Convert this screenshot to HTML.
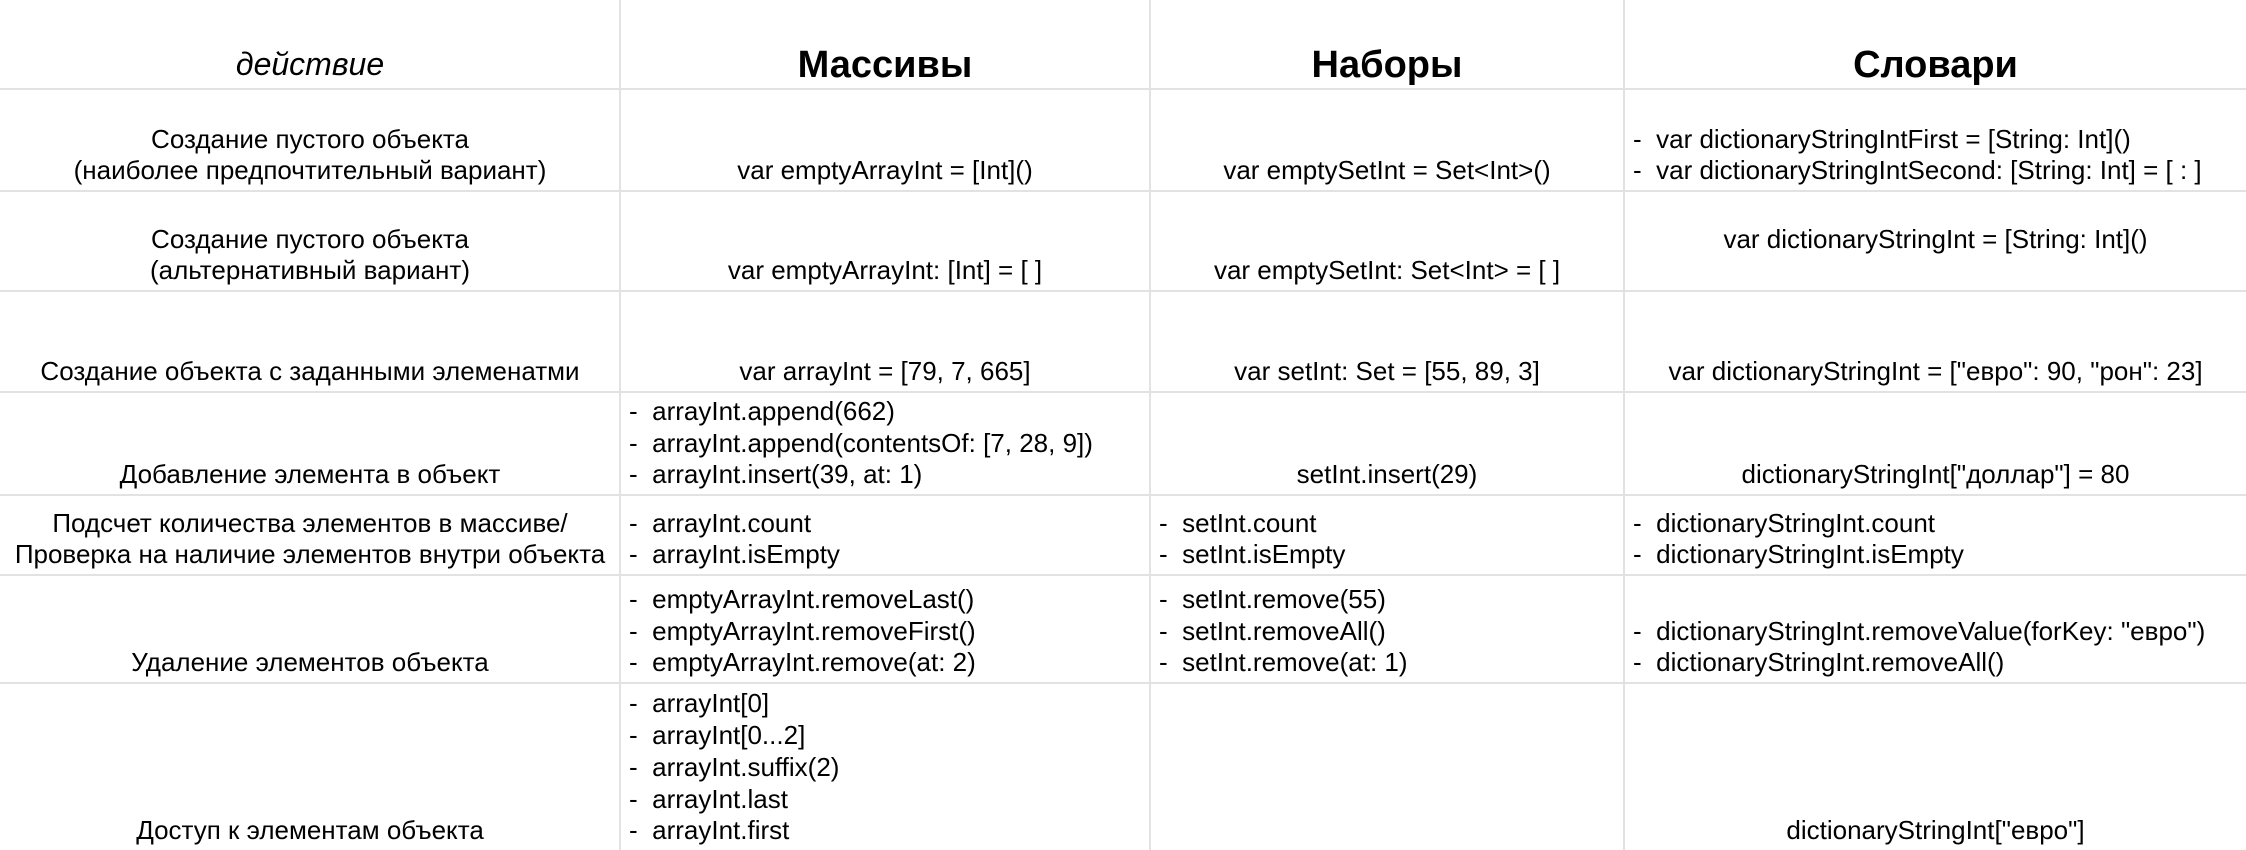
<!DOCTYPE html>
<html><head><meta charset="utf-8"><style>
html,body{margin:0;padding:0;background:#fff;}
body{width:2246px;height:850px;position:relative;overflow:hidden;font-family:"Liberation Sans",Arial,sans-serif;color:#000;}
.h{position:absolute;background:#e2e2e2;height:2px;left:0;width:2246px;}
.v{position:absolute;background:#e2e2e2;width:2px;top:0;height:850px;}
.c{position:absolute;display:flex;flex-direction:column;justify-content:flex-end;font-size:26px;line-height:31.7px;padding-bottom:3px;box-sizing:border-box;white-space:pre;}
.ctr{text-align:center;}
.lft{text-align:left;padding-left:8px;}
.hd{font-size:38px;font-weight:bold;line-height:44px;padding-bottom:1px;}
.it{font-style:italic;font-size:32px;line-height:40px;padding-bottom:4px;}
</style></head><body>
<div class="h" style="top:88px"></div>
<div class="h" style="top:190px"></div>
<div class="h" style="top:290px"></div>
<div class="h" style="top:391px"></div>
<div class="h" style="top:494px"></div>
<div class="h" style="top:574px"></div>
<div class="h" style="top:682px"></div>
<div class="v" style="left:619px"></div>
<div class="v" style="left:1149px"></div>
<div class="v" style="left:1623px"></div>

<div class="c ctr it" style="left:0;width:620px;top:0;height:88px">действие</div>
<div class="c ctr hd" style="left:621px;width:528px;top:0;height:88px">Массивы</div>
<div class="c ctr hd" style="left:1151px;width:472px;top:0;height:88px">Наборы</div>
<div class="c ctr hd" style="left:1625px;width:621px;top:0;height:88px">Словари</div>

<div class="c ctr" style="left:0;width:620px;top:90px;height:100px"><div>Создание пустого объекта</div><div>(наиболее предпочтительный вариант)</div></div>
<div class="c ctr" style="left:621px;width:528px;top:90px;height:100px">var emptyArrayInt = [Int]()</div>
<div class="c ctr" style="left:1151px;width:472px;top:90px;height:100px">var emptySetInt = Set&lt;Int&gt;()</div>
<div class="c lft" style="left:1625px;width:621px;top:90px;height:100px"><div>-  var dictionaryStringIntFirst = [String: Int]()</div><div>-  var dictionaryStringIntSecond: [String: Int] = [ : ]</div></div>

<div class="c ctr" style="left:0;width:620px;top:192px;height:98px"><div>Создание пустого объекта</div><div>(альтернативный вариант)</div></div>
<div class="c ctr" style="left:621px;width:528px;top:192px;height:98px">var emptyArrayInt: [Int] = [ ]</div>
<div class="c ctr" style="left:1151px;width:472px;top:192px;height:98px">var emptySetInt: Set&lt;Int&gt; = [ ]</div>
<div class="c ctr" style="left:1625px;width:621px;top:192px;height:98px"><div>var dictionaryStringInt = [String: Int]()</div><div> </div></div>

<div class="c ctr" style="left:0;width:620px;top:292px;height:99px">Создание объекта с заданными элеменатми</div>
<div class="c ctr" style="left:621px;width:528px;top:292px;height:99px">var arrayInt = [79, 7, 665]</div>
<div class="c ctr" style="left:1151px;width:472px;top:292px;height:99px">var setInt: Set = [55, 89, 3]</div>
<div class="c ctr" style="left:1625px;width:621px;top:292px;height:99px">var dictionaryStringInt = ["евро": 90, "рон": 23]</div>

<div class="c ctr" style="left:0;width:620px;top:393px;height:101px">Добавление элемента в объект</div>
<div class="c lft" style="left:621px;width:528px;top:393px;height:101px"><div>-  arrayInt.append(662)</div><div>-  arrayInt.append(contentsOf: [7, 28, 9])</div><div>-  arrayInt.insert(39, at: 1)</div></div>
<div class="c ctr" style="left:1151px;width:472px;top:393px;height:101px">setInt.insert(29)</div>
<div class="c ctr" style="left:1625px;width:621px;top:393px;height:101px">dictionaryStringInt["доллар"] = 80</div>

<div class="c ctr" style="left:0;width:620px;top:496px;height:78px"><div>Подсчет количества элементов в массиве/</div><div>Проверка на наличие элементов внутри объекта</div></div>
<div class="c lft" style="left:621px;width:528px;top:496px;height:78px"><div>-  arrayInt.count</div><div>-  arrayInt.isEmpty</div></div>
<div class="c lft" style="left:1151px;width:472px;top:496px;height:78px"><div>-  setInt.count</div><div>-  setInt.isEmpty</div></div>
<div class="c lft" style="left:1625px;width:621px;top:496px;height:78px"><div>-  dictionaryStringInt.count</div><div>-  dictionaryStringInt.isEmpty</div></div>

<div class="c ctr" style="left:0;width:620px;top:576px;height:106px">Удаление элементов объекта</div>
<div class="c lft" style="left:621px;width:528px;top:576px;height:106px"><div>-  emptyArrayInt.removeLast()</div><div>-  emptyArrayInt.removeFirst()</div><div>-  emptyArrayInt.remove(at: 2)</div></div>
<div class="c lft" style="left:1151px;width:472px;top:576px;height:106px"><div>-  setInt.remove(55)</div><div>-  setInt.removeAll()</div><div>-  setInt.remove(at: 1)</div></div>
<div class="c lft" style="left:1625px;width:621px;top:576px;height:106px"><div>-  dictionaryStringInt.removeValue(forKey: "евро")</div><div>-  dictionaryStringInt.removeAll()</div></div>

<div class="c ctr" style="left:0;width:620px;top:684px;height:166px">Доступ к элементам объекта</div>
<div class="c lft" style="left:621px;width:528px;top:684px;height:166px"><div>-  arrayInt[0]</div><div>-  arrayInt[0...2]</div><div>-  arrayInt.suffix(2)</div><div>-  arrayInt.last</div><div>-  arrayInt.first</div></div>
<div class="c ctr" style="left:1625px;width:621px;top:684px;height:166px">dictionaryStringInt["евро"]</div>
</body></html>
